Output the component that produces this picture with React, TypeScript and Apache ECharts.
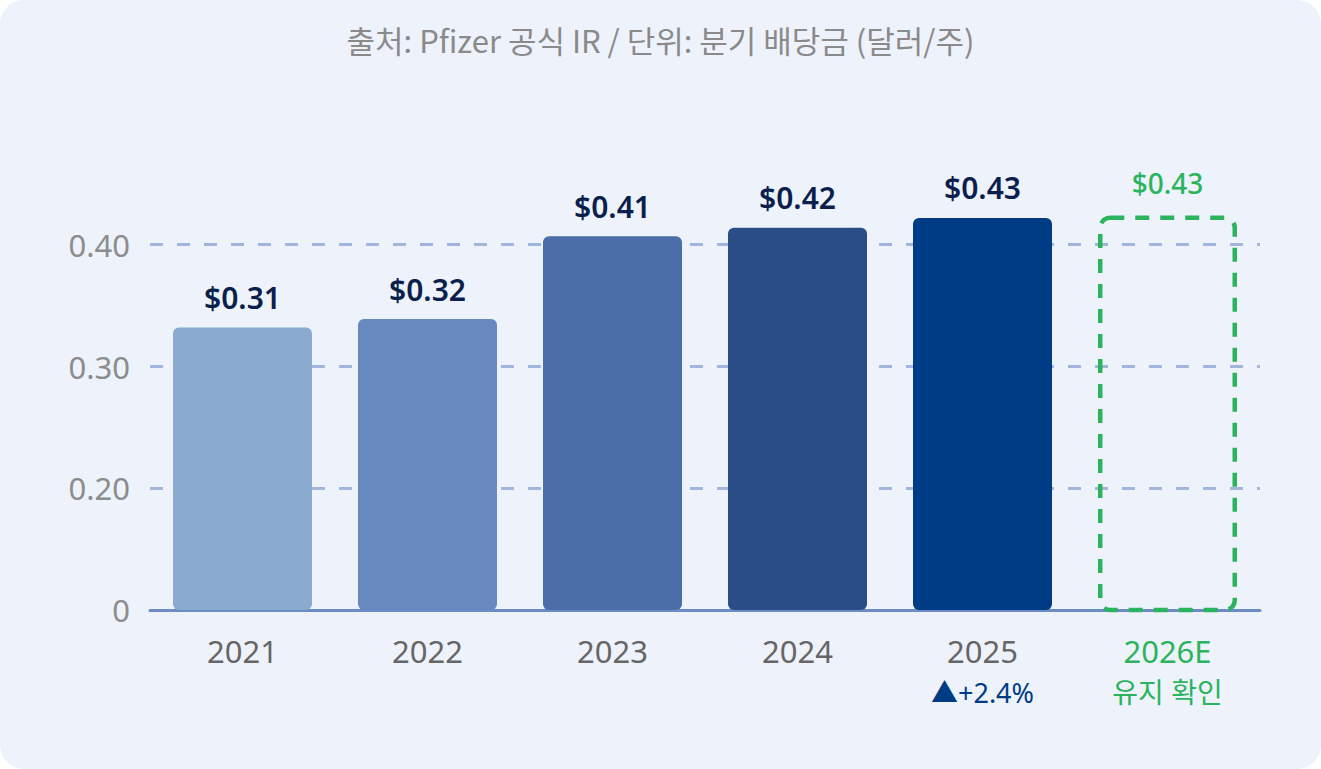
import { useEffect, useRef } from "react";
import * as echarts from "echarts";

// data
const years = ["2021", "2022", "2023", "2024", "2025", "2026E"];
const barHeights = [0.332, 0.339, 0.407, 0.414, 0.422, 0.424];
const valueLabels = ["$0.31", "$0.32", "$0.41", "$0.42", "$0.43", "$0.43"];
const barColors = ["#8aaad0", "#6889bf", "#4a6fa8", "#2b4d87", "#003c86"];
const yTicks = [0.1, 0.2, 0.3, 0.4]; // bottom tick is shown as "0"
const growthNote = "▲+2.4%";
const forecastNote = "유지 확인";
const source = "출처: Pfizer 공식 IR / 단위: 분기 배당금 (달러/주)";

const FONT = "'Noto Sans', 'Noto Sans CJK KR', sans-serif";
const GREEN = "#2bb35e";

export default function App() {
  const ref = useRef<HTMLDivElement | null>(null);

  useEffect(() => {
    if (!ref.current) return;
    const chart = echarts.init(ref.current, undefined, { renderer: "svg" });

    const data = barHeights.map((v, i) => {
      const forecast = i === barHeights.length - 1;
      return {
        value: v,
        itemStyle: forecast
          ? {
              color: "rgba(0,0,0,0)",
              borderColor: GREEN,
              borderWidth: 4.5,
              borderType: [14, 11],
              borderRadius: 10,
            }
          : { color: barColors[i], borderRadius: 6 },
        label: forecast
          ? { color: GREEN, fontWeight: 500, fontSize: 28, distance: 19 }
          : { color: "#0b1f4d", fontWeight: 600, fontSize: 30, distance: 15 },
      };
    });

    chart.setOption({
      animation: false,
      title: {
        text: source,
        left: "center",
        top: 19,
        textStyle: {
          fontFamily: "'Noto Sans CJK KR', sans-serif",
          fontSize: 31,
          fontWeight: "normal",
          color: "#8a8a8a",
        },
      },
      grid: { left: 150, right: 61, top: 123, bottom: 159, containLabel: false },
      xAxis: {
        type: "category",
        data: years,
        axisLine: { show: true, lineStyle: { color: "#6d8cc4", width: 3 } },
        axisTick: { show: false },
        axisLabel: {
          margin: 22,
          interval: 0,
          verticalAlign: "top",
          formatter: (val: string, idx: number) => {
            if (idx === 4) return `{y|${val}}\n{up|${growthNote}}`;
            if (idx === 5) return `{g|${val}}\n{gk|${forecastNote}}`;
            return `{y|${val}}`;
          },
          rich: {
            y: { fontFamily: FONT, fontSize: 31, color: "#666666", lineHeight: 38 },
            up: { fontFamily: FONT, fontSize: 27, color: "#003c86", lineHeight: 44 },
            g: { fontFamily: FONT, fontSize: 31, color: GREEN, lineHeight: 38 },
            gk: { fontFamily: FONT, fontSize: 28, color: GREEN, lineHeight: 44 },
          },
        },
      },
      yAxis: {
        type: "value",
        min: yTicks[0],
        max: 0.5,
        interval: 0.1,
        axisLine: { show: false },
        axisTick: { show: false },
        axisLabel: {
          margin: 20,
          fontFamily: FONT,
          fontSize: 31,
          color: "#8c8c8c",
          formatter: (v: number) => {
            if (Math.abs(v - yTicks[0]) < 1e-6) return "0";
            if (v > yTicks[yTicks.length - 1] + 1e-6) return "";
            return v.toFixed(2);
          },
        },
        splitLine: {
          show: true,
          showMinLine: false,
          showMaxLine: false,
          lineStyle: { color: "#a2b6dd", width: 3, type: [13, 14] },
        },
      },
      series: [
        {
          type: "bar",
          barWidth: 139,
          data,
          label: {
            show: true,
            position: "top",
            fontFamily: FONT,
            formatter: (p: any) => valueLabels[p.dataIndex],
          },
        },
      ],
    });

    return () => chart.dispose();
  }, []);

  return (
    <div
      style={{
        position: "fixed",
        left: 0,
        top: 0,
        width: 1321,
        height: 769,
        borderRadius: 24,
        background: "#eef3fb",
        overflow: "hidden",
      }}
    >
      <div ref={ref} style={{ width: 1321, height: 769 }} />
    </div>
  );
}
